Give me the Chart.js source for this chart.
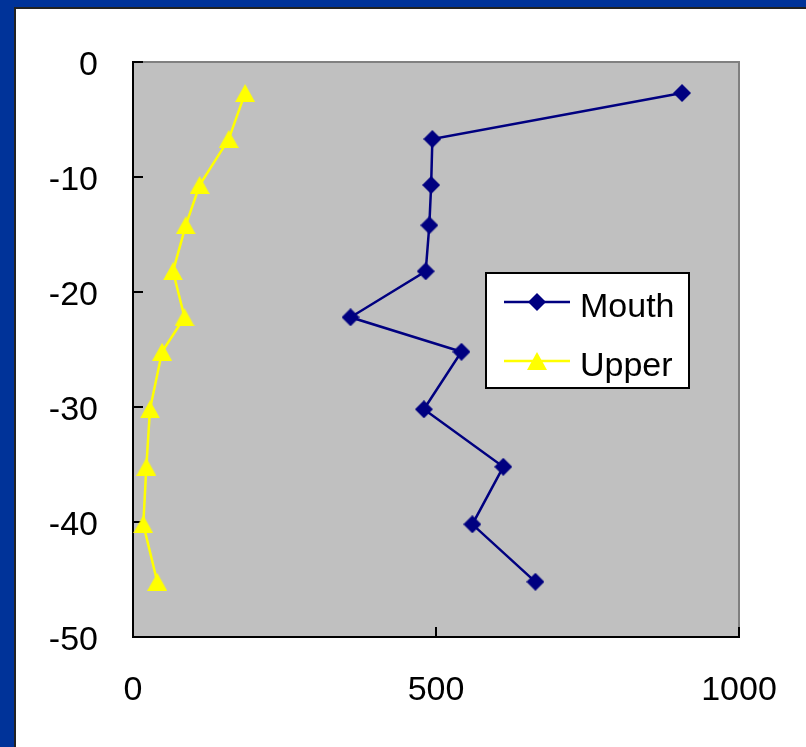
<!DOCTYPE html>
<html>
<head>
<meta charset="utf-8">
<script src="https://cdn.jsdelivr.net/npm/chart.js@4.4.0/dist/chart.umd.min.js"></script>
<style>
  html, body { margin: 0; padding: 0; background: #fff; }
  #wrap { width: 806px; height: 747px; }
</style>
</head>
<body>
<div id="wrap"><canvas id="chart" width="806" height="747"></canvas></div>
<script>
// depth (m) on the vertical axis, shared by both series
const depths = [-2.7, -6.7, -10.7, -14.2, -18.2, -22.2, -25.2, -30.2, -35.2, -40.2, -45.2];
const mouthValues = [906, 494, 492, 489, 483, 359, 542, 480, 611, 560, 664];
const upperValues = [185, 158, 110, 87, 66, 85, 48, 28, 22, 17, 40];
const seriesNames = ['Mouth', 'Upper'];
const xTicks = [0, 500, 1000];
const yTicks = [0, -10, -20, -30, -40, -50];

const FONT = "'Liberation Sans', Arial, sans-serif";

// marker images, drawn centred on the point like the original (bbox centred)
function makeDiamond(size, color) {
    const c = document.createElement('canvas');
    c.width = size; c.height = size;
    const g = c.getContext('2d');
    g.fillStyle = color;
    g.beginPath();
    g.moveTo(size / 2, 0);
    g.lineTo(size, size / 2);
    g.lineTo(size / 2, size);
    g.lineTo(0, size / 2);
    g.closePath();
    g.fill();
    return c;
}
function makeTriangle(w, h, color) {
    const c = document.createElement('canvas');
    c.width = w; c.height = h;
    const g = c.getContext('2d');
    g.fillStyle = color;
    g.beginPath();
    g.moveTo(w / 2, 0);
    g.lineTo(w, h);
    g.lineTo(0, h);
    g.closePath();
    g.fill();
    return c;
}
const diamond = makeDiamond(18, '#000080');
const triangle = makeTriangle(20, 18, '#FFFF00');

const toPoints = (xs) => xs.map((v, i) => ({x: v, y: depths[i]}));

// blue frame + grey plot area
const framePlugin = {
    id: 'frame',
    beforeDraw(chart) {
        const ctx = chart.ctx;
        const {left, top, right, bottom} = chart.chartArea;
        ctx.save();
        ctx.fillStyle = '#003399';
        ctx.fillRect(0, 0, chart.width, chart.height);
        ctx.fillStyle = '#222222';
        ctx.fillRect(14, 7, chart.width, chart.height);
        ctx.fillStyle = '#ffffff';
        ctx.fillRect(16, 9, chart.width, chart.height);
        ctx.fillStyle = '#C0C0C0';
        ctx.fillRect(left, top, right - left, bottom - top);
        ctx.strokeStyle = '#808080';
        ctx.lineWidth = 2;
        ctx.beginPath();
        ctx.moveTo(left, top);
        ctx.lineTo(right, top);
        ctx.lineTo(right, bottom);
        ctx.stroke();
        ctx.restore();
    }
};

// legend box inside the plot area, as in the original
const legendPlugin = {
    id: 'boxLegend',
    afterDatasetsDraw(chart) {
        const ctx = chart.ctx;
        const box = {x: 486, y: 273, w: 203, h: 115};
        const rows = [302, 361];
        ctx.save();
        ctx.fillStyle = '#ffffff';
        ctx.fillRect(box.x, box.y, box.w, box.h);
        ctx.strokeStyle = '#000000';
        ctx.lineWidth = 2;
        ctx.strokeRect(box.x, box.y, box.w, box.h);
        chart.data.datasets.forEach((ds, i) => {
            const y = rows[i];
            ctx.strokeStyle = ds.borderColor;
            ctx.lineWidth = ds.borderWidth;
            ctx.beginPath();
            ctx.moveTo(504, y);
            ctx.lineTo(570, y);
            ctx.stroke();
            const img = ds.pointStyle;
            ctx.drawImage(img, 537 - img.width / 2, y - img.height / 2);
            ctx.fillStyle = '#000';
            ctx.font = '34px ' + FONT;
            ctx.textAlign = 'left';
            ctx.textBaseline = 'alphabetic';
            ctx.fillText(ds.label, 580, y + 15);
        });
        ctx.restore();
    }
};

new Chart(document.getElementById('chart'), {
    type: 'scatter',
    data: {
        datasets: [
            {
                label: seriesNames[0],
                data: toPoints(mouthValues),
                showLine: true,
                borderColor: '#000080',
                borderWidth: 2.5,
                pointStyle: diamond,
                pointRadius: 9,
                pointHoverRadius: 9
            },
            {
                label: seriesNames[1],
                data: toPoints(upperValues),
                showLine: true,
                borderColor: '#FFFF00',
                borderWidth: 2.5,
                pointStyle: triangle,
                pointRadius: 10,
                pointHoverRadius: 10
            }
        ]
    },
    options: {
        responsive: false,
        animation: false,
        layout: {padding: {left: 0, top: 62, right: 67, bottom: 0}},
        plugins: {
            legend: {display: false},
            tooltip: {enabled: false}
        },
        scales: {
            x: {
                type: 'linear',
                min: xTicks[0],
                max: xTicks[xTicks.length - 1],
                afterBuildTicks: (s) => { s.ticks = xTicks.map(v => ({value: v})); },
                afterFit: (s) => { s.height = 110; s.paddingLeft = 0; s.paddingRight = 0; },
                border: {display: true, color: '#000', width: 2},
                grid: {drawOnChartArea: false, tickLength: -10, color: '#000', lineWidth: 2},
                ticks: {
                    padding: 43,
                    color: '#000',
                    font: {family: FONT, size: 34},
                    callback: (v) => String(v)
                }
            },
            y: {
                type: 'linear',
                min: yTicks[yTicks.length - 1],
                max: yTicks[0],
                afterBuildTicks: (s) => { s.ticks = yTicks.map(v => ({value: v})); },
                afterFit: (s) => { s.width = 133; s.paddingTop = 0; s.paddingBottom = 0; },
                border: {display: true, color: '#000', width: 2},
                grid: {drawOnChartArea: false, tickLength: -10, color: '#000', lineWidth: 2},
                ticks: {
                    padding: 45,
                    labelOffset: 4,
                    color: '#000',
                    font: {family: FONT, size: 34},
                    callback: (v) => String(v)
                }
            }
        }
    },
    plugins: [framePlugin, legendPlugin]
});
</script>
</body>
</html>
